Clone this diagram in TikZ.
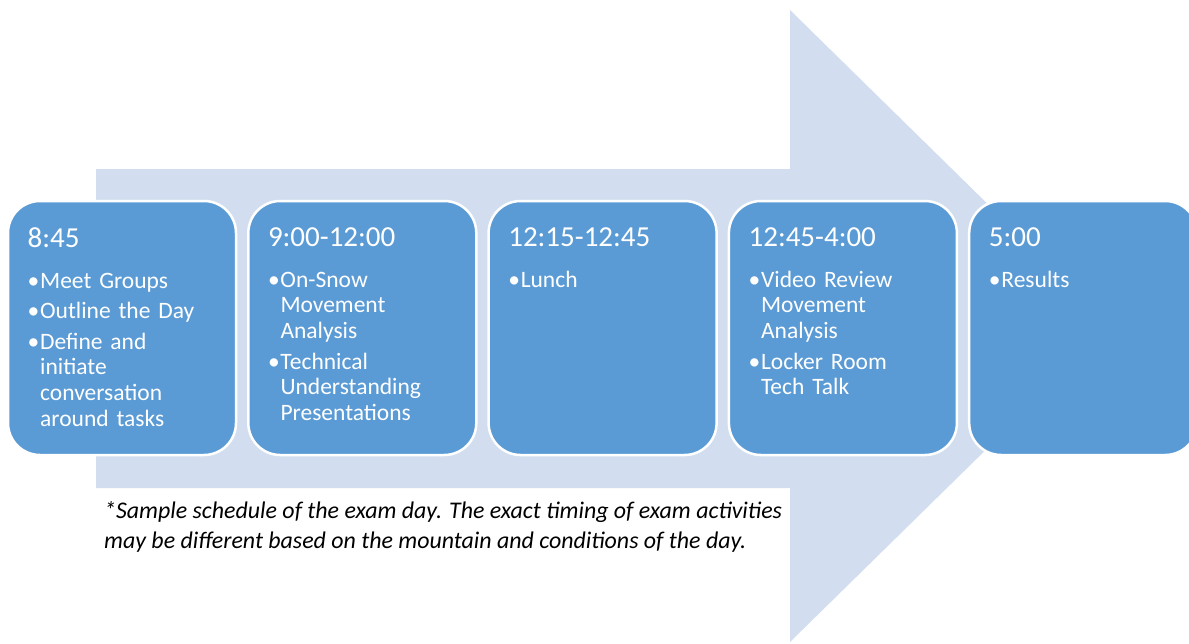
\documentclass[tikz,border=0pt]{standalone}
\usepackage{fontspec}
\setmainfont{Carlito}
\usetikzlibrary{positioning}
\definecolor{stepblue}{RGB}{91,155,213}
\definecolor{arrowpale}{RGB}{210,222,239}
\newcommand{\steptitle}[1]{{\fontsize{29}{29}\selectfont #1\par}\vspace{10.5pt}}
\newcommand{\stepitem}[1]{\hangindent=12.5pt\hangafter=1\noindent\makebox[12.5pt][l]{\textbullet}#1\par}
\tikzset{stepbox/.style={rectangle,rounded corners=32pt,fill=stepblue,draw=white,line width=2.5pt,
    minimum width=228pt,minimum height=254pt,outer sep=0pt}}
\tikzset{steptext/.style={text=white,text width=200pt,inner sep=0pt,
    font=\fontsize{23.5}{25.8}\selectfont,
    execute at begin node={\setlength{\parskip}{4.7pt}\setlength{\parindent}{0pt}}}}
\tikzset{notetext/.style={anchor=north west,inner sep=0pt,align=left,
    font=\fontsize{23.9}{30}\selectfont\itshape}}

\begin{document}
\begin{tikzpicture}[x=1pt,y=-1pt]
  \useasboundingbox (0,0) rectangle (1189,643);
  % big arrow behind the steps
  \fill [arrowpale] (96,169) -- (790,169) -- (790,10) -- (1112,326) -- (790,642) -- (790,488) -- (96,488) -- cycle;

  \node [stepbox] (b1) at (122,328) {};
  \node [stepbox,right=12.3pt of b1] (b2) {};
  \node [stepbox,right=12.3pt of b2] (b3) {};
  \node [stepbox,right=12.3pt of b3] (b4) {};
  \node [stepbox,right=12.3pt of b4] (b5) {};

  \node [steptext,below right=26pt and 19.5pt of b1.north west] (t1) {\steptitle{8:45}%
    \stepitem{Meet Groups}\stepitem{Outline the Day}%
    \stepitem{Define and\newline initiate\newline conversation\newline around tasks}};
  \node [steptext,below right=26pt and 19.5pt of b2.north west] (t2) {\steptitle{9:00-12:00}%
    \stepitem{On-Snow\newline Movement\newline Analysis}%
    \stepitem{Technical\newline Understanding\newline Presentations}};
  \node [steptext,below right=26pt and 19.5pt of b3.north west] (t3) {\steptitle{12:15-12:45}%
    \stepitem{Lunch}};
  \node [steptext,below right=26pt and 19.5pt of b4.north west] (t4) {\steptitle{12:45-4:00}%
    \stepitem{Video Review\newline Movement\newline Analysis}%
    \stepitem{Locker Room\newline Tech Talk}};
  \node [steptext,below right=26pt and 19.5pt of b5.north west] (t5) {\steptitle{5:00}%
    \stepitem{Results}};

  \node [notetext] (note) at (104,501) {*Sample schedule of the exam day. The exact timing of exam activities\\
    may be different based on the mountain and conditions of the day.};
\end{tikzpicture}
\end{document}
